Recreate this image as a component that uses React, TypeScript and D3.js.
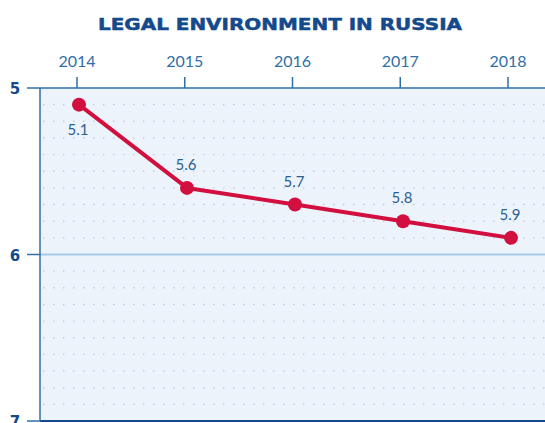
import React from "react";
import * as d3 from "d3";

const years = ["2014", "2015", "2016", "2017", "2018"];
const values = [5.1, 5.6, 5.7, 5.8, 5.9];
const yTicks = [5, 6, 7];
const title = "LEGAL ENVIRONMENT IN RUSSIA";

export default function App() {
  const W = 545, H = 423;
  const left = 40, top = 88, bottom = 421;
  const xTick = d3.scalePoint<string>().domain(years).range([77, 508]);
  const xDot = d3.scalePoint<string>().domain(years).range([79, 511]);
  const y = d3.scaleLinear().domain([5, 7]).range([top, bottom]);
  const gridVals = d3.range(51, 70).map((v) => v / 10).filter((v) => Math.abs(v - 6) > 0.01);
  const line = d3
    .line<number>()
    .x((_, i) => xDot(years[i])!)
    .y((d) => y(d));
  const dark = "#14498c";
  const mid = "#2f6fa6";
  const red = "#d2103f";
  return (
    <svg width={W} height={H} style={{ position: "absolute", left: 0, top: 0, background: "#fff" }}>
      <text
        x={280}
        y={29.5}
        textAnchor="middle"
        fontFamily="DejaVu Sans"
        fontWeight="bold"
        fontSize={16.5}
        fill={dark}
        stroke={dark}
        strokeWidth={0.5}
        textLength={364}
        lengthAdjust="spacingAndGlyphs"
      >
        {title}
      </text>
      <rect x={left} y={top} width={W - left} height={bottom - top} fill="#edf3fb" />
      {gridVals.map((v) => (
        <line
          key={v}
          x1={left + 3}
          x2={W}
          y1={y(v)}
          y2={y(v)}
          stroke="#bccbdc"
          strokeWidth={1.4}
          strokeDasharray="1.4 8.6"
        />
      ))}
      <line x1={left} x2={W} y1={y(6)} y2={y(6)} stroke="#a5c9e4" strokeWidth={2} />
      <line x1={left} x2={W} y1={top} y2={top} stroke={mid} strokeWidth={1.5} />
      <line x1={left} x2={W} y1={y(7)} y2={y(7)} stroke={dark} strokeWidth={2} />
      <line x1={left} x2={left} y1={top} y2={bottom} stroke={mid} strokeWidth={1.5} />
      {years.map((yr) => (
        <g key={yr}>
          <line x1={xTick(yr)} x2={xTick(yr)} y1={top - 11} y2={top} stroke={mid} strokeWidth={1.5} />
          <text
            x={xTick(yr)}
            y={67}
            textAnchor="middle"
            fontFamily="Lato"
            fontSize={16}
            fill={mid}
          >
            {yr}
          </text>
        </g>
      ))}
      {yTicks.map((t) => (
        <g key={t}>
          <line x1={27} x2={left} y1={y(t)} y2={y(t)} stroke={mid} strokeWidth={1.5} />
          <text
            x={15}
            y={y(t) + 6}
            textAnchor="middle"
            fontFamily="DejaVu Sans"
            fontWeight="bold"
            fontSize={15}
            fill={dark}
          >
            {t}
          </text>
        </g>
      ))}
      <path d={line(values)!} fill="none" stroke={red} strokeWidth={4} strokeLinejoin="round" />
      {values.map((v, i) => (
        <g key={i}>
          <circle cx={xDot(years[i])} cy={y(v)} r={7} fill={red} />
          <text
            x={xDot(years[i])! - 1}
            y={i === 0 ? y(v) + 30 : y(v) - 18}
            textAnchor="middle"
            fontFamily="Lato"
            fontSize={15}
            fill="#2a5f92"
          >
            {v.toFixed(1)}
          </text>
        </g>
      ))}
    </svg>
  );
}
